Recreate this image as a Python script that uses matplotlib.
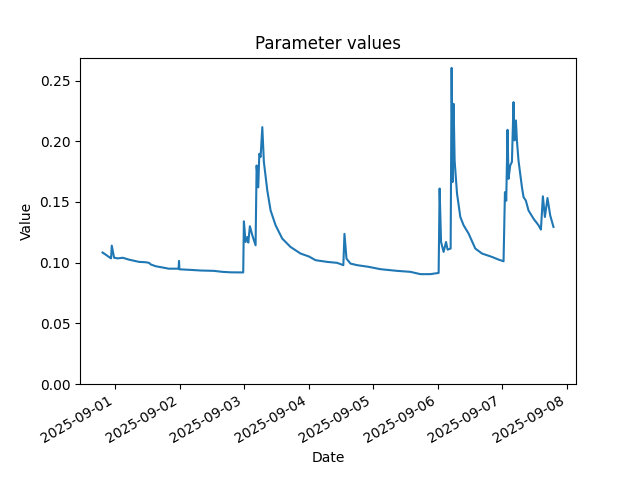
"""
Parameter values over one week, read off the reference chart.
"""

import matplotlib
matplotlib.use("Agg")
import matplotlib.pyplot as plt
import pandas as pd

# ── Series (timestamp, value) ─────────────────────────────────────────────────
TIMES = [
    "2025-08-31 19:20", "2025-08-31 20:33", "2025-08-31 22:08", "2025-08-31 22:30",
    "2025-08-31 22:46", "2025-08-31 23:38", "2025-09-01 01:00", "2025-09-01 02:52",
    "2025-09-01 05:05", "2025-09-01 08:55", "2025-09-01 11:24", "2025-09-01 12:38",
    "2025-09-01 13:16", "2025-09-01 15:07", "2025-09-01 17:37", "2025-09-01 19:57",
    "2025-09-01 23:37", "2025-09-01 23:47", "2025-09-01 23:56", "2025-09-02 04:07",
    "2025-09-02 07:50", "2025-09-02 12:47", "2025-09-02 15:54", "2025-09-02 18:59",
    "2025-09-02 23:40", "2025-09-02 23:55", "2025-09-03 00:33", "2025-09-03 01:11",
    "2025-09-03 01:33", "2025-09-03 02:09", "2025-09-03 03:03", "2025-09-03 04:16",
    "2025-09-03 04:39", "2025-09-03 05:16", "2025-09-03 05:39", "2025-09-03 06:08",
    "2025-09-03 06:46", "2025-09-03 07:21", "2025-09-03 08:37", "2025-09-03 09:51",
    "2025-09-03 11:42", "2025-09-03 14:11", "2025-09-03 17:16", "2025-09-03 20:59",
    "2025-09-04 00:10", "2025-09-04 02:34", "2025-09-04 06:54", "2025-09-04 10:37",
    "2025-09-04 12:55", "2025-09-04 13:20", "2025-09-04 14:05", "2025-09-04 15:34",
    "2025-09-04 18:03", "2025-09-04 22:22", "2025-09-05 02:42", "2025-09-05 08:55",
    "2025-09-05 13:51", "2025-09-05 17:34", "2025-09-05 21:17", "2025-09-06 00:22",
    "2025-09-06 00:44", "2025-09-06 01:16", "2025-09-06 02:13", "2025-09-06 03:07",
    "2025-09-06 03:42", "2025-09-06 04:50", "2025-09-06 05:12", "2025-09-06 05:34",
    "2025-09-06 05:56", "2025-09-06 06:19", "2025-09-06 07:12", "2025-09-06 08:26",
    "2025-09-06 09:39", "2025-09-06 11:31", "2025-09-06 14:00", "2025-09-06 16:29",
    "2025-09-06 20:12", "2025-09-06 22:39", "2025-09-07 00:31", "2025-09-07 01:02",
    "2025-09-07 01:31", "2025-09-07 02:00", "2025-09-07 02:22", "2025-09-07 03:00",
    "2025-09-07 03:38", "2025-09-07 04:14", "2025-09-07 04:36", "2025-09-07 05:07",
    "2025-09-07 05:29", "2025-09-07 06:05", "2025-09-07 07:21", "2025-09-07 07:57",
    "2025-09-07 08:50", "2025-09-07 09:48", "2025-09-07 11:40", "2025-09-07 13:31",
    "2025-09-07 14:25", "2025-09-07 15:09", "2025-09-07 15:54", "2025-09-07 16:52",
    "2025-09-07 17:52", "2025-09-07 19:05",
]

VALUES = [
    0.1083, 0.1065, 0.1040, 0.1035,
    0.1140, 0.1040, 0.1035, 0.1040,
    0.1025, 0.1006, 0.1003, 0.0998,
    0.0985, 0.0970, 0.0960, 0.0950,
    0.0950, 0.1014, 0.0945, 0.0940,
    0.0935, 0.0932, 0.0924, 0.0920,
    0.0919, 0.1340, 0.1170, 0.1210,
    0.1165, 0.1300, 0.1225, 0.1143,
    0.1800, 0.1620, 0.1897, 0.1870,
    0.2116, 0.1830, 0.1595, 0.1430,
    0.1308, 0.1198, 0.1129, 0.1075,
    0.1050, 0.1020, 0.1006, 0.0998,
    0.0979, 0.1237, 0.1033, 0.0992,
    0.0979, 0.0965, 0.0946, 0.0932,
    0.0924, 0.0905, 0.0905, 0.0915,
    0.1610, 0.1170, 0.1088, 0.1170,
    0.1107, 0.1116, 0.2604, 0.1664,
    0.2308, 0.1840, 0.1570, 0.1376,
    0.1308, 0.1239, 0.1116, 0.1075,
    0.1047, 0.1025, 0.1011, 0.1580,
    0.1510, 0.2094, 0.1690, 0.1800,
    0.1830, 0.2322, 0.2007, 0.2171,
    0.2007, 0.1840, 0.1623, 0.1540,
    0.1510, 0.1430, 0.1362, 0.1308,
    0.1272, 0.1546, 0.1376, 0.1532,
    0.1390, 0.1294,
]

dates = pd.to_datetime(TIMES)

fig, ax = plt.subplots(figsize=(6.4, 4.8), dpi=100)
ax.plot(dates, VALUES, color="#1f77b4")
ax.set_ylim(bottom=0)
ax.set_title("Parameter values")
ax.set_xlabel("Date")
ax.set_ylabel("Value")
fig.autofmt_xdate()

fig.savefig("out.png", dpi=100)
